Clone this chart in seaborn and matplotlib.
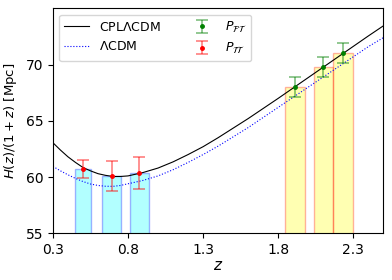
import numpy as np
import pandas as pd
import seaborn as sns
import matplotlib.pyplot as plt

# model curves
z_curve = [0.3, 0.35, 0.4, 0.45, 0.5, 0.55, 0.6, 0.65, 0.7, 0.75, 0.8, 0.9, 1.0,
           1.1, 1.2, 1.3, 1.4, 1.6, 1.8, 2.0, 2.2, 2.4, 2.5]
h_cpl = [63.05, 62.4, 61.8, 61.3, 60.85, 60.55, 60.3, 60.15, 60.05, 60.05, 60.1, 60.4, 60.8,
         61.35, 62.0, 62.7, 63.5, 65.2, 67.0, 68.85, 70.7, 72.55, 73.45]
h_lcdm = [60.95, 60.55, 60.2, 59.88, 59.6, 59.38, 59.25, 59.18, 59.17, 59.25, 59.4, 59.7, 60.1,
          60.65, 61.3, 62.0, 62.75, 64.4, 66.2, 68.0, 69.8, 71.6, 72.4]

# P_TT points (red, cyan bars)
z_tt = [0.50, 0.69, 0.875]
h_tt = [60.7, 60.1, 60.35]
err_tt = [0.8, 1.3, 1.45]
w_tt = [0.11, 0.125, 0.13]

# P_FT points (green, yellow bars)
z_ft = [1.91, 2.10, 2.23]
h_ft = [68.0, 69.8, 71.0]
err_ft = [0.9, 0.9, 0.9]
w_ft = [0.13, 0.13, 0.13]

curves = pd.DataFrame({'z': z_curve, 'CPL': h_cpl, 'LCDM': h_lcdm})

fig = plt.figure(figsize=(3.92, 2.8), dpi=100)
ax = fig.add_axes([0.135, 0.167, 0.843, 0.803])

ax.bar(z_tt, h_tt, width=w_tt, color='cyan', edgecolor='blue', linewidth=1.0, alpha=0.3)
ax.bar(z_ft, h_ft, width=w_ft, color='yellow', edgecolor='red', linewidth=1.0, alpha=0.3)

sns.lineplot(data=curves, x='z', y='CPL', ax=ax, color='black', lw=0.8, label=r'CPL$\Lambda$CDM')
sns.lineplot(data=curves, x='z', y='LCDM', ax=ax, color='blue', lw=0.8, linestyle=':', label=r'$\Lambda$CDM')

ax.errorbar(z_ft, h_ft, yerr=err_ft, fmt='.', color='green', ecolor=(0, 0.5, 0, 0.5),
            elinewidth=1.2, capsize=4, capthick=1.2, markersize=5, label=r'$P_{\mathcal{FT}}$')
ax.errorbar(z_tt, h_tt, yerr=err_tt, fmt='.', color='red', ecolor=(1, 0, 0, 0.5),
            elinewidth=1.2, capsize=4, capthick=1.2, markersize=5, label=r'$P_{\mathcal{TT}}$')

ax.set_xlim(0.3, 2.5)
ax.set_ylim(55, 75)
ax.set_xticks([0.3, 0.8, 1.3, 1.8, 2.3])
ax.set_yticks([55, 60, 65, 70])
ax.tick_params(labelsize=10)
ax.set_xlabel(r'$z$', fontsize=11, labelpad=1)
ax.set_ylabel(r'$H(z)/(1+z)$ [Mpc]', fontsize=9.5, labelpad=5)

ax.legend(loc='upper left', ncol=2, fontsize=9, columnspacing=2.3)

fig.savefig('out.png', dpi=100)
